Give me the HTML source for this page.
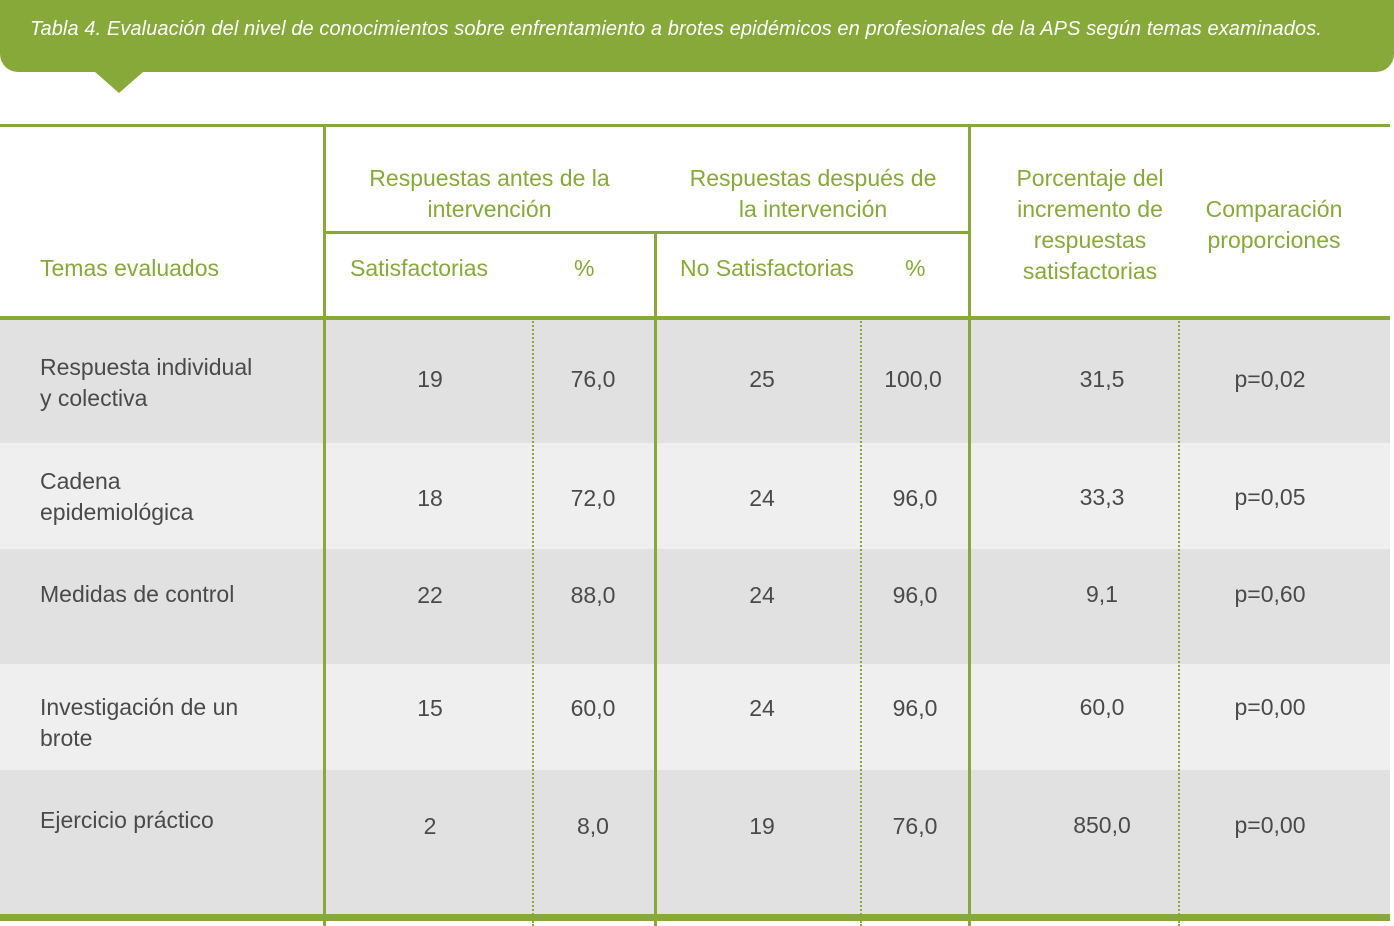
<!DOCTYPE html>
<html><head><meta charset="utf-8"><style>
body{margin:0;width:1394px;height:926px;background:#fff;position:relative;overflow:hidden;font-family:"Liberation Sans",sans-serif}
div{position:absolute}
.t{color:#4a4a4a;font-size:23px;line-height:31px;white-space:nowrap}
.c{text-align:center}
.h{color:#86a93a;font-size:23px;line-height:31px;text-align:center;white-space:nowrap}
.g{background:#86a93a}
.d{border-left:2px dotted #86a93a;width:0}
</style></head><body>
<div style="left:0;top:0;width:1394px;height:72px;background:#86a93a;border-radius:0 0 18px 18px"></div>
<div style="left:95px;top:72px;width:0;height:0;border-left:24px solid transparent;border-right:24px solid transparent;border-top:21px solid #86a93a"></div>
<div style="left:30px;top:18px;color:#fff;font-style:italic;font-size:20px;letter-spacing:0.1px;white-space:nowrap">Tabla 4. Evaluación del nivel de conocimientos sobre enfrentamiento a brotes epidémicos en profesionales de la APS según temas examinados.</div>

<div style="left:0;top:320px;width:1390px;height:123px;background:#e1e1e1"></div>
<div style="left:0;top:443px;width:1390px;height:106px;background:#efefef"></div>
<div style="left:0;top:549px;width:1390px;height:115px;background:#e1e1e1"></div>
<div style="left:0;top:664px;width:1390px;height:106px;background:#efefef"></div>
<div style="left:0;top:770px;width:1390px;height:146px;background:#e1e1e1"></div>

<div class="g" style="left:0;top:124px;width:1390px;height:3px"></div>
<div class="g" style="left:0;top:316px;width:1390px;height:4px"></div>
<div class="g" style="left:325px;top:231px;width:645px;height:3px"></div>
<div class="g" style="left:0;top:914px;width:1390px;height:7px"></div>
<div class="g" style="left:323px;top:124px;width:3px;height:802px"></div>
<div class="g" style="left:654px;top:231px;width:3px;height:695px"></div>
<div class="g" style="left:968px;top:124px;width:3px;height:802px"></div>
<div class="d" style="left:532px;top:318px;height:608px"></div>
<div class="d" style="left:860px;top:318px;height:608px"></div>
<div class="d" style="left:1178px;top:318px;height:608px"></div>

<div class="h" style="left:40px;top:253px;text-align:left">Temas evaluados</div>
<div class="h" style="left:325px;top:163px;width:329px">Respuestas antes de la<br>intervención</div>
<div class="h" style="left:656px;top:163px;width:314px">Respuestas después de<br>la intervención</div>
<div class="h" style="left:350px;top:253px">Satisfactorias</div>
<div class="h" style="left:574px;top:253px">%</div>
<div class="h" style="left:680px;top:253px">No Satisfactorias</div>
<div class="h" style="left:905px;top:253px">%</div>
<div class="h" style="left:980px;top:163px;width:220px">Porcentaje del<br>incremento de<br>respuestas<br>satisfactorias</div>
<div class="h" style="left:1180px;top:194px;width:188px">Comparación<br>proporciones</div>

<div class="t" style="left:40px;top:352px">Respuesta individual<br>y colectiva</div>
<div class="t" style="left:40px;top:466px">Cadena<br>epidemiológica</div>
<div class="t" style="left:40px;top:579px">Medidas de control</div>
<div class="t" style="left:40px;top:692px">Investigación de un<br>brote</div>
<div class="t" style="left:40px;top:805px">Ejercicio práctico</div>

<div class="t c" style="left:380px;width:100px;top:364px">19</div>
<div class="t c" style="left:543px;width:100px;top:364px">76,0</div>
<div class="t c" style="left:712px;width:100px;top:364px">25</div>
<div class="t c" style="left:863px;width:100px;top:364px">100,0</div>
<div class="t c" style="left:1052px;width:100px;top:364px">31,5</div>
<div class="t c" style="left:1220px;width:100px;top:364px">p=0,02</div>

<div class="t c" style="left:380px;width:100px;top:483px">18</div>
<div class="t c" style="left:543px;width:100px;top:483px">72,0</div>
<div class="t c" style="left:712px;width:100px;top:483px">24</div>
<div class="t c" style="left:865px;width:100px;top:483px">96,0</div>
<div class="t c" style="left:1052px;width:100px;top:482px">33,3</div>
<div class="t c" style="left:1220px;width:100px;top:482px">p=0,05</div>

<div class="t c" style="left:380px;width:100px;top:580px">22</div>
<div class="t c" style="left:543px;width:100px;top:580px">88,0</div>
<div class="t c" style="left:712px;width:100px;top:580px">24</div>
<div class="t c" style="left:865px;width:100px;top:580px">96,0</div>
<div class="t c" style="left:1052px;width:100px;top:579px">9,1</div>
<div class="t c" style="left:1220px;width:100px;top:579px">p=0,60</div>

<div class="t c" style="left:380px;width:100px;top:693px">15</div>
<div class="t c" style="left:543px;width:100px;top:693px">60,0</div>
<div class="t c" style="left:712px;width:100px;top:693px">24</div>
<div class="t c" style="left:865px;width:100px;top:693px">96,0</div>
<div class="t c" style="left:1052px;width:100px;top:692px">60,0</div>
<div class="t c" style="left:1220px;width:100px;top:692px">p=0,00</div>

<div class="t c" style="left:380px;width:100px;top:811px">2</div>
<div class="t c" style="left:543px;width:100px;top:811px">8,0</div>
<div class="t c" style="left:712px;width:100px;top:811px">19</div>
<div class="t c" style="left:865px;width:100px;top:811px">76,0</div>
<div class="t c" style="left:1052px;width:100px;top:810px">850,0</div>
<div class="t c" style="left:1220px;width:100px;top:810px">p=0,00</div>
</body></html>
